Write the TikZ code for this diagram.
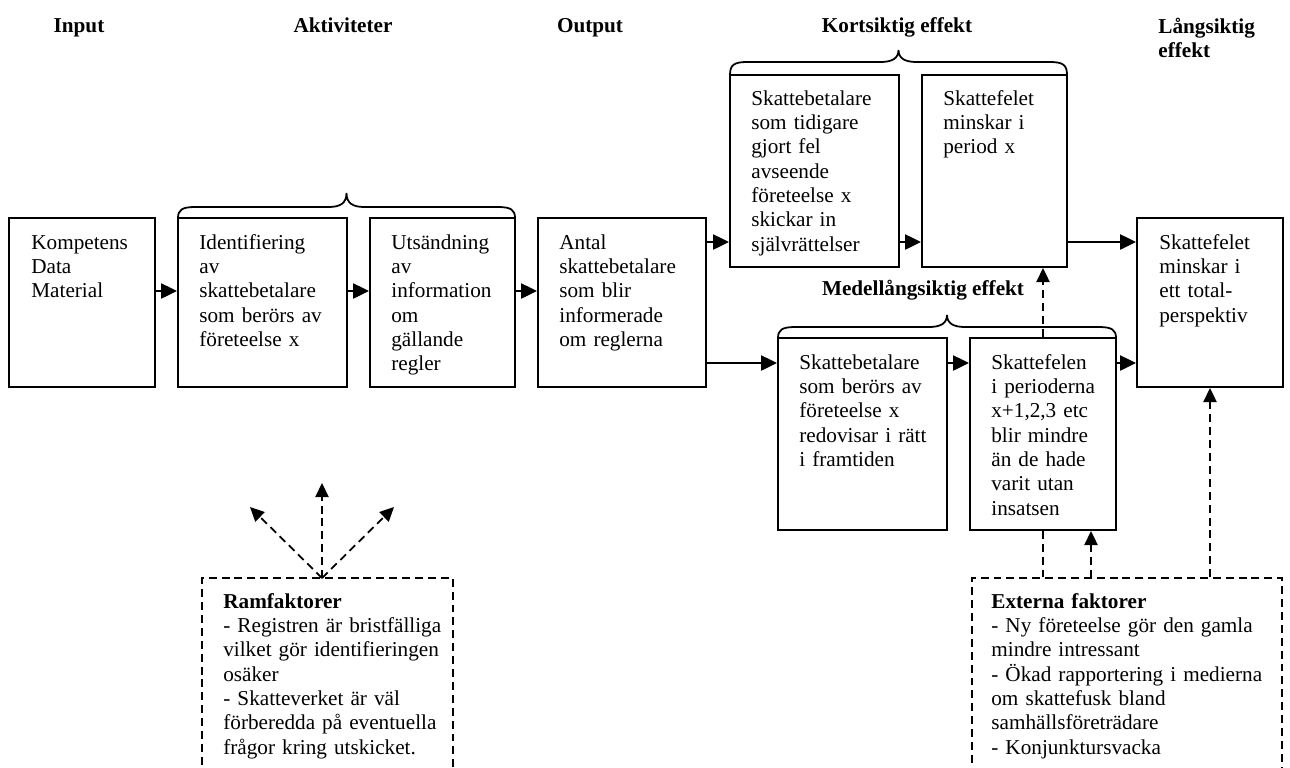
\documentclass[tikz,border=0pt]{standalone}
\usepackage{fontspec}
\setmainfont{Liberation Serif}
\usetikzlibrary{arrows.meta,fit}

% curly brace over a group of boxes: left x, right x, foot y, flat y, tip y
\newcommand\drawbrace[5]{%
  \draw[bracestyle] (#1,#3) .. controls (#1,#4+3) and (#1+4,#4) .. (#1+17,#4)
    -- ({(#1+#2)/2-18},#4) .. controls ({(#1+#2)/2-6},#4) and ({(#1+#2)/2},#4-4) .. ({(#1+#2)/2},#5)
    .. controls ({(#1+#2)/2},#4-4) and ({(#1+#2)/2+6},#4) .. ({(#1+#2)/2+18},#4)
    -- (#2-17,#4) .. controls (#2-4,#4) and (#2,#4+3) .. (#2,#3);}

\tikzset{
  box/.style={draw, line width=1.1pt, inner sep=0pt},
  dbox/.style={draw, line width=1pt, dash pattern=on 4.5pt off 2.8pt, inner sep=0pt},
  txt/.style={anchor=base west, inner sep=0pt, text width=7cm, align=left,
              font=\fontsize{12}{13.8}\selectfont},
  hdr/.style={anchor=base, inner sep=0pt, font=\fontsize{12}{13.8}\selectfont\bfseries},
  arr/.style={line width=1.1pt, -{Triangle[length=9pt,width=8.5pt]}},
  darr/.style={line width=1pt, dash pattern=on 4.5pt off 2.8pt, -{Triangle[length=8pt,width=7.5pt]}},
  dline/.style={line width=1pt, dash pattern=on 4.5pt off 2.8pt},
  bracestyle/.style={line width=1pt},
}

\begin{document}
\begin{tikzpicture}[x=0.566pt, y=-0.566pt]
  \clip (0,0) rectangle (1290,767);

  % column headings
  \node[hdr] (hInput) at (79,32) {Input};
  \node[hdr] (hAkt) at (343,32) {Aktiviteter};
  \node[hdr] (hOut) at (590,32) {Output};
  \node[hdr] (hKort) at (897,32) {Kortsiktig effekt};
  \node[txt, font=\fontsize{12}{13.8}\selectfont\bfseries] (hLang) at (1158,33) {Långsiktig\\effekt};
  \node[hdr] (hMedel) at (923,295) {Medellångsiktig effekt};

  % boxes
  \node[box, fit={(9,218) (155,387)}] (komp) {};
  \node[box, fit={(178,218) (347,387)}] (ident) {};
  \node[box, fit={(370,218) (515,387)}] (uts) {};
  \node[box, fit={(538,218) (706,387)}] (antal) {};
  \node[box, fit={(730,75) (899,267)}] (kort1) {};
  \node[box, fit={(922,75) (1067,267)}] (kort2) {};
  \node[box, fit={(778,338) (947,530)}] (medel1) {};
  \node[box, fit={(970,338) (1116,530)}] (medel2) {};
  \node[box, fit={(1137,218) (1283,387)}] (lang) {};

  % box texts
  \node[txt] (tKomp) at (31,249) {Kompetens\\Data\\Material};
  \node[txt] (tIdent) at (199,249) {Identifiering\\av\\skattebetalare\\som berörs av\\företeelse x};
  \node[txt] (tUts) at (391,249) {Utsändning\\av\\information\\om\\gällande\\regler};
  \node[txt] (tAntal) at (559,249) {Antal\\skattebetalare\\som blir\\informerade\\om reglerna};
  \node[txt] (tKort1) at (751,105) {Skattebetalare\\som tidigare\\gjort fel\\avseende\\företeelse x\\skickar in\\självrättelser};
  \node[txt] (tKort2) at (943,105) {Skattefelet\\minskar i\\period x};
  \node[txt] (tMedel1) at (799,369) {Skattebetalare\\som berörs av\\företeelse x\\redovisar i rätt\\i framtiden};
  \node[txt] (tMedel2) at (991,369) {Skattefelen\\i perioderna\\x+1,2,3 etc\\blir mindre\\än de hade\\varit utan\\insatsen};
  \node[txt] (tLang) at (1159,249) {Skattefelet\\minskar i\\ett total-\\perspektiv};

  % braces
  \drawbrace{178}{515}{218}{207}{193}
  \drawbrace{730}{1067}{75}{62}{50}
  \drawbrace{778}{1116}{338}{327}{315}

  % factor boxes (open at the bottom edge)
  \node[dbox, fit={(202,578) (453,800)}] (ram) {};
  \node[dbox, fit={(972,578) (1282,800)}] (ext) {};
  \node[txt] (tRam) at (223,608) {\textbf{Ramfaktorer}\\- Registren är bristfälliga\\vilket gör identifieringen\\osäker\\- Skatteverket är väl\\förberedda på eventuella\\frågor kring utskicket.};
  \node[txt] (tExt) at (991,608) {\textbf{Externa faktorer}\\- Ny företeelse gör den gamla\\mindre intressant\\- Ökad rapportering i medierna\\om skattefusk bland\\samhällsföreträdare\\- Konjunktursvacka};

  % arrow rows
  \coordinate (r1) at (0,291);
  \coordinate (r2) at (0,242);
  \coordinate (r3) at (0,363);
  \draw[arr] (komp.east |- r1) -- (ident.west |- r1);
  \draw[arr] (ident.east |- r1) -- (uts.west |- r1);
  \draw[arr] (uts.east |- r1) -- (antal.west |- r1);
  \draw[arr] (antal.east |- r2) -- (kort1.west |- r2);
  \draw[arr] (kort1.east |- r2) -- (kort2.west |- r2);
  \draw[arr] (kort2.east |- r2) -- (lang.west |- r2);
  \draw[arr] (antal.east |- r3) -- (medel1.west |- r3);
  \draw[arr] (medel1.east |- r3) -- (medel2.west |- r3);
  \draw[arr] (medel2.east |- r3) -- (lang.west |- r3);

  % dashed influences
  \draw[darr] (medel2.north) -- (kort2.south -| medel2.north);
  \draw[dline] (medel2.south) -- (ext.north -| medel2.south);
  \coordinate (extUp) at (1091,578);
  \draw[darr] (extUp) -- (medel2.south -| extUp);
  \draw[darr] (ext.north -| lang.south) -- (lang.south);

  \coordinate (ramTop) at (322,578);
  \coordinate (ramL) at (250,507);
  \coordinate (ramU) at (322,483);
  \coordinate (ramR) at (394,507);
  \draw[darr] (ramTop) -- (ramL);
  \draw[darr] (ramTop) -- (ramU);
  \draw[darr] (ramTop) -- (ramR);
\end{tikzpicture}
\end{document}
